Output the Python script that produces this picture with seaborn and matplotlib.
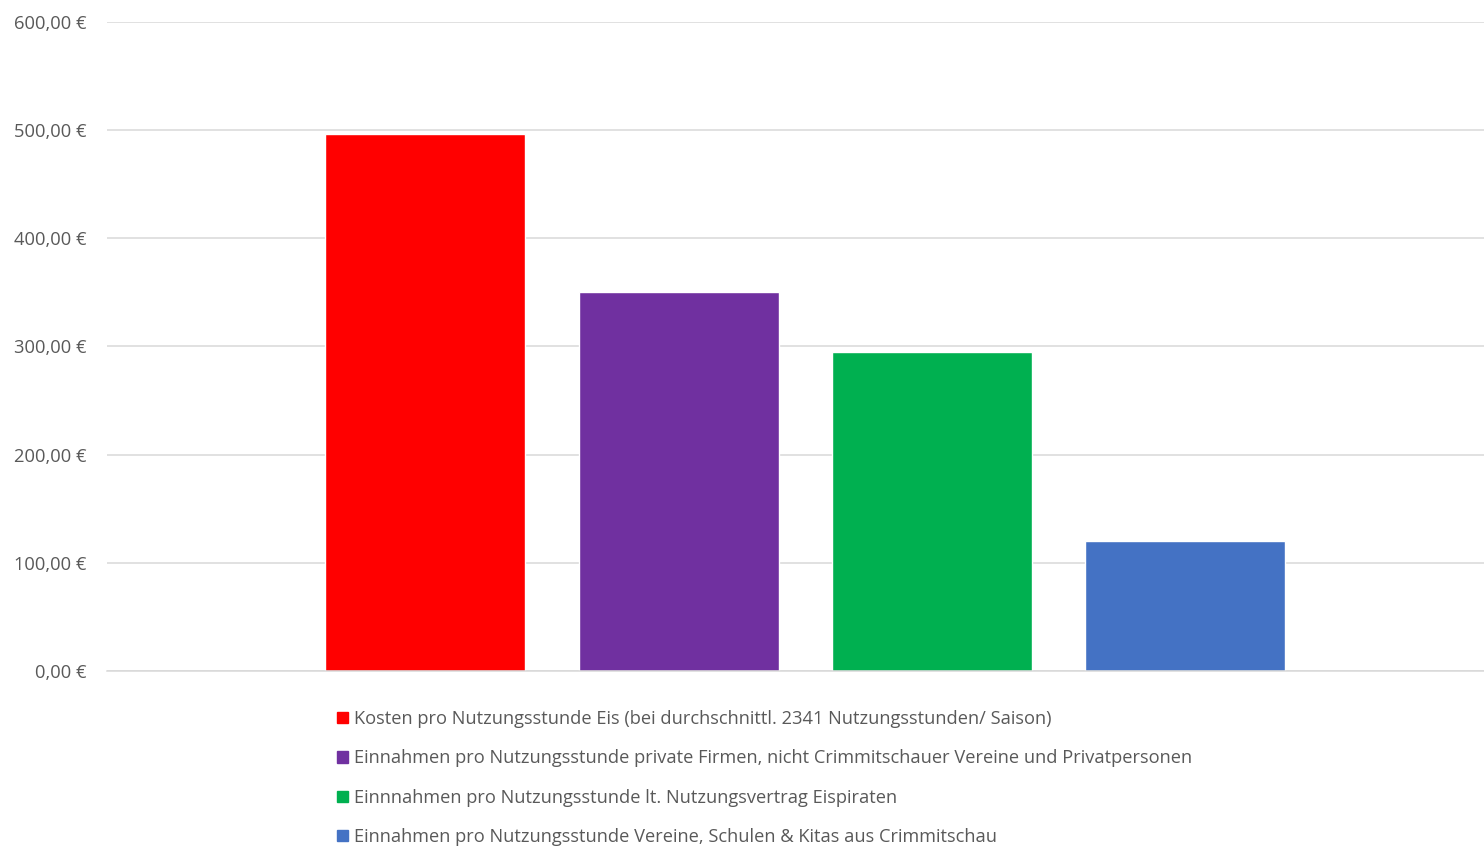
import matplotlib
matplotlib.use("Agg")
import matplotlib.pyplot as plt
import seaborn as sns
import pandas as pd
from matplotlib.ticker import FuncFormatter

series = [
    "Kosten pro Nutzungsstunde Eis (bei durchschnittl. 2341 Nutzungsstunden/ Saison)",
    "Einnahmen pro Nutzungsstunde private Firmen, nicht Crimmitschauer Vereine und Privatpersonen",
    "Einnnahmen pro Nutzungsstunde lt. Nutzungsvertrag Eispiraten",
    "Einnahmen pro Nutzungsstunde Vereine, Schulen & Kitas aus Crimmitschau",
]
values = [496, 350, 295, 120]
colors = ["#FF0000", "#7030A0", "#00B050", "#4472C4"]
yticks = [0, 100, 200, 300, 400, 500, 600]

sns.set_theme(style="white")
plt.rcParams["font.family"] = ["Open Sans", "DejaVu Sans"]

df = pd.DataFrame({"Serie": series, "Wert": values})

fig = plt.figure(figsize=(14.84, 8.46), dpi=100)
ax = fig.add_axes([107 / 1484, 1 - 671 / 846, 1 - 107 / 1484, (671 - 22) / 846])

sns.barplot(data=df, x="Serie", y="Wert", hue="Serie", palette=colors,
            dodge=False, width=0.79, saturation=1, ax=ax, legend=False)

ax.set_ylim(0, 600)
ax.set_xlim(-1.257, 4.18)
ax.set_yticks(yticks)
ax.yaxis.set_major_formatter(FuncFormatter(lambda v, p: f"{v:,.2f}".replace(",", "X").replace(".", ",").replace("X", ".") + " €"))
ax.set_xticks([])
ax.set_xlabel("")
ax.set_ylabel("")
ax.grid(axis="y", color="#d9d9d9", linewidth=1.1)
ax.set_axisbelow(True)
for s in ["top", "right", "left"]:
    ax.spines[s].set_visible(False)
ax.spines["bottom"].set_color("#d9d9d9")
ax.spines["bottom"].set_linewidth(1.1)
ax.tick_params(axis="y", length=0, pad=15, labelsize=13.2, labelcolor="#595959")

handles = [plt.Rectangle((0, 0), 1, 1, color=c) for c in colors]
fig.legend(handles, series, loc="upper left", bbox_to_anchor=(337 / 1484, 1 - 710 / 846),
           frameon=False, fontsize=13.15, labelcolor="#595959",
           handlelength=0.6, handleheight=0.6, handletextpad=0.35,
           labelspacing=1.17, borderpad=0, borderaxespad=0)

fig.savefig("out.png", dpi=100, facecolor="white")
